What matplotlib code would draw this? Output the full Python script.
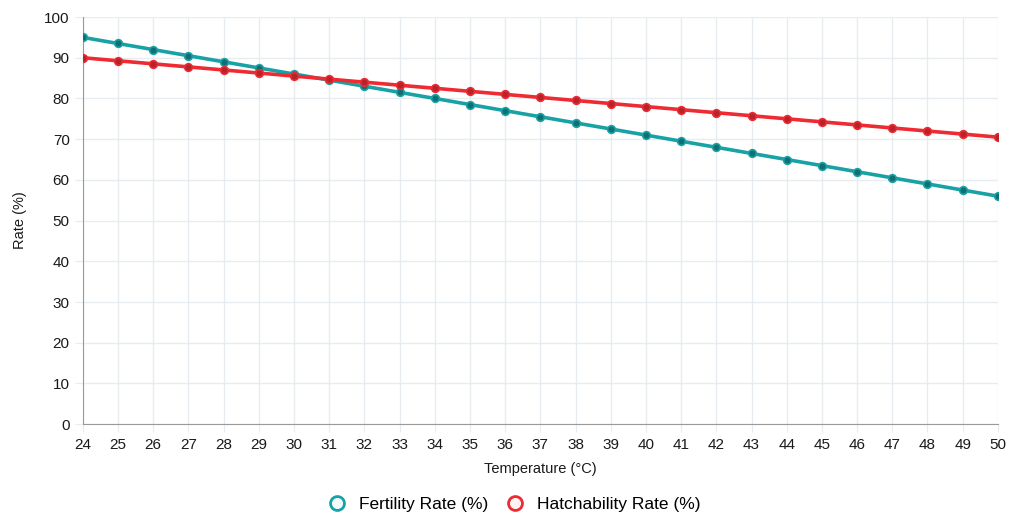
import matplotlib

matplotlib.use("Agg")
import matplotlib.pyplot as plt

temperature = list(range(24, 51))
fertility = [95, 93.5, 92, 90.5, 89, 87.5, 86, 84.5, 83, 81.5, 80, 78.5, 77, 75.5,
             74, 72.5, 71, 69.5, 68, 66.5, 65, 63.5, 62, 60.5, 59, 57.5, 56]
hatchability = [90, 89.25, 88.5, 87.75, 87, 86.25, 85.5, 84.75, 84, 83.25, 82.5,
                81.75, 81, 80.25, 79.5, 78.75, 78, 77.25, 76.5, 75.75, 75, 74.25,
                73.5, 72.75, 72, 71.25, 70.5]

TEAL = "#19a2a6"
RED = "#ee2a32"

plt.rcParams["font.family"] = ["Liberation Sans", "DejaVu Sans"]

fig = plt.figure(figsize=(10.1, 5.16), dpi=100)
ax = fig.add_axes([0.082, 0.178, 0.906, 0.789])

ax.plot(temperature, fertility, "-o", color=TEAL, lw=2.6, ms=5.5,
        mfc="#0f6f72", mec=TEAL, mew=1.2, label="Fertility Rate (%)", zorder=3)
ax.plot(temperature, hatchability, "-o", color=RED, lw=2.6, ms=5.5,
        mfc="#b8222a", mec=RED, mew=1.2, label="Hatchability Rate (%)", zorder=3)

ax.set_xlim(24, 50)
ax.set_ylim(0, 100)
ax.set_xticks(temperature)
ax.set_yticks(range(0, 101, 10))
ax.grid(True, color="#e6ecef", lw=1)
ax.set_axisbelow(True)
for side in ["top", "right"]:
    ax.spines[side].set_visible(False)
for side in ["left", "bottom"]:
    ax.spines[side].set_color("#9a9a9a")
ax.tick_params(axis="both", length=6, color="#e6ecef", labelsize=11,
               labelcolor="#1a1a1a")
ax.tick_params(axis="x", pad=4)

ax.set_xlabel("Temperature (°C)", fontsize=10.5, color="#1a1a1a", labelpad=7)
ax.set_ylabel("Rate (%)", fontsize=10.5, color="#1a1a1a", labelpad=12)

leg = fig.legend(handles=[
    plt.Line2D([], [], ls="", marker="o", ms=10, mfc="#f4fbfb", mec=TEAL, mew=2,
               label="Fertility Rate (%)"),
    plt.Line2D([], [], ls="", marker="o", ms=10, mfc="#fff4f4", mec=RED, mew=2,
               label="Hatchability Rate (%)")],
    loc="center", bbox_to_anchor=(0.505, 0.022), ncol=2, frameon=False,
    fontsize=12.5, handletextpad=0.3, columnspacing=0.5)

fig.savefig("out.png", dpi=100)
